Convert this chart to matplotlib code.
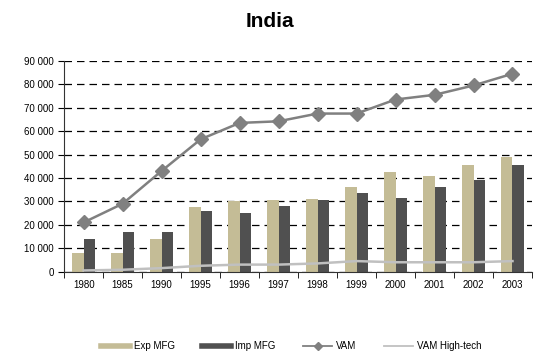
import matplotlib
matplotlib.use("Agg")
import matplotlib.pyplot as plt
import numpy as np
from matplotlib.ticker import FuncFormatter
from matplotlib.lines import Line2D

plt.rcParams["font.family"] = ["Liberation Sans", "DejaVu Sans"]

years = ["1980", "1985", "1990", "1995", "1996", "1997", "1998", "1999", "2000", "2001", "2002", "2003"]
exp_mfg = [8000, 8000, 14000, 27500, 30000, 30500, 31000, 36000, 42500, 41000, 45500, 49000]
imp_mfg = [14000, 17000, 17000, 26000, 25000, 28000, 30500, 33500, 31500, 36000, 39000, 45500]
vam = [21000, 29000, 43000, 56500, 63500, 64200, 67500, 67500, 73500, 75500, 79500, 84500]
vam_ht = [500, 800, 1500, 2500, 3000, 3000, 3500, 4500, 4000, 4000, 4000, 4500]

fig = plt.figure(figsize=(5.39, 3.56), dpi=100)
ax = fig.add_axes([0.119, 0.237, 0.868, 0.592])

x = np.arange(len(years))
w = 0.29
c_exp, c_imp, c_vam, c_ht = "#C4BC96", "#505050", "#808080", "#C0C0C0"
ax.bar(x - w/2, exp_mfg, w, color=c_exp, zorder=2)
ax.bar(x + w/2, imp_mfg, w, color=c_imp, zorder=2)
ax.plot(x, vam, color=c_vam, lw=1.8, marker="D", ms=7, zorder=3)
ax.plot(x, vam_ht, color=c_ht, lw=1.8, zorder=3)

ax.set_xlim(-0.5, len(years) - 0.5)
ax.set_ylim(0, 90000)
ax.set_yticks(np.arange(0, 90001, 10000))
ax.yaxis.set_major_formatter(FuncFormatter(lambda v, p: f"{int(v):,}".replace(",", " ")))
ax.set_xticks(x)
ax.set_xticklabels(years)
ax.set_xticks(np.arange(-0.5, len(years), 1), minor=True)
ax.tick_params(axis="x", which="major", length=0, labelsize=7, pad=6)
ax.tick_params(axis="x", which="minor", length=4, direction="out")
ax.tick_params(axis="y", labelsize=7, length=4, direction="out")
ax.grid(axis="y", color="black", linestyle=(0, (6, 4)), lw=0.9, zorder=0)
for s in ["top", "right"]:
    ax.spines[s].set_visible(False)
ax.spines["left"].set_color("#333333")
ax.spines["bottom"].set_color("#333333")

fig.text(0.5, 0.94, "India", ha="center", va="center", fontsize=15, fontweight="bold")

handles = [
    Line2D([], [], color=c_exp, lw=4),
    Line2D([], [], color=c_imp, lw=4),
    Line2D([], [], color=c_vam, lw=1.3, marker="D", ms=4),
    Line2D([], [], color=c_ht, lw=1.3),
]
labels = ["Exp MFG", "Imp MFG", "VAM", "VAM High-tech"]
fig.legend(handles, labels, loc="center", bbox_to_anchor=(0.54, 0.028), ncol=4, frameon=False,
           fontsize=7, handlelength=3, columnspacing=2.8, handletextpad=0.4)

fig.savefig("out.png", dpi=100)
